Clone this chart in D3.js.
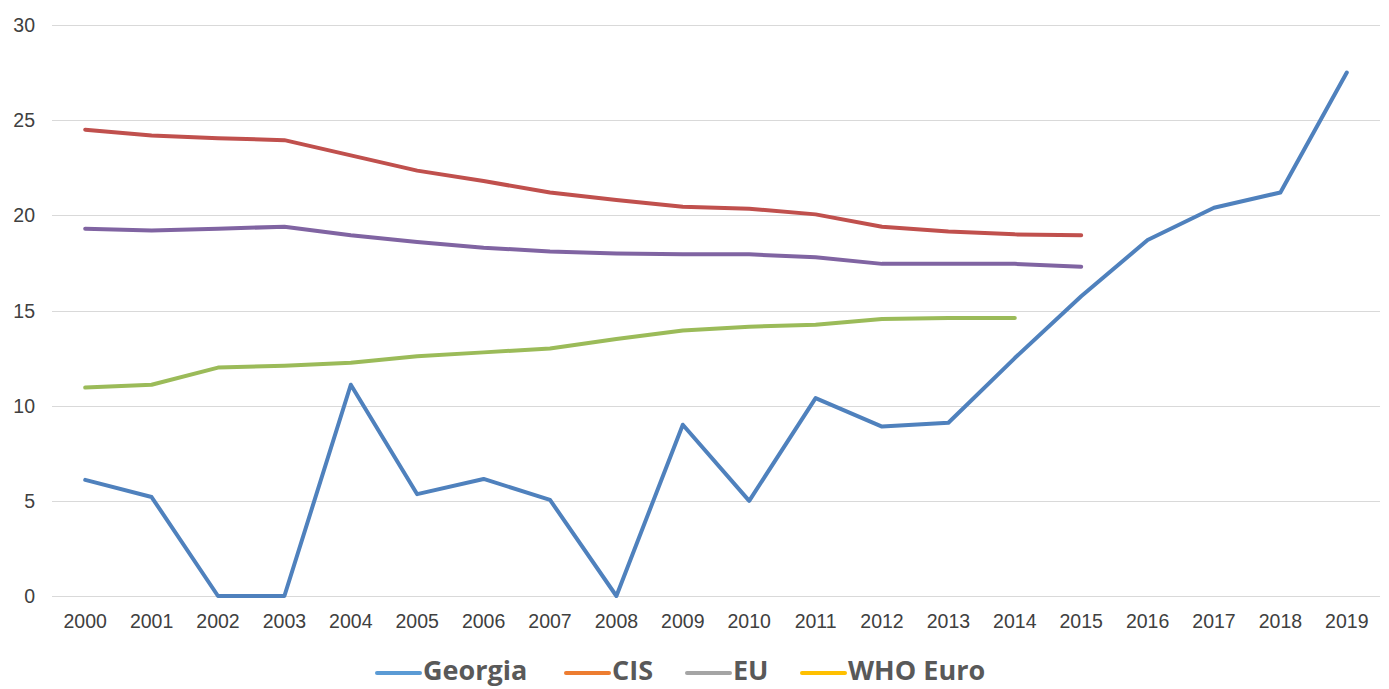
<!DOCTYPE html>
<html>
<head>
<meta charset="utf-8">
<script src="https://cdn.jsdelivr.net/npm/d3@7"></script>
<style>
	body { margin: 0; background: #fff; }
	svg { display: block; }
</style>
</head>
<body>
<svg id="chart" width="1389" height="689"></svg>
<script>
// Chart values
const years = ["2000", "2001", "2002", "2003", "2004", "2005", "2006", "2007", "2008", "2009",
	"2010", "2011", "2012", "2013", "2014", "2015", "2016", "2017", "2018", "2019"];
const georgia = [6.1, 5.2, 0, 0, 11.1, 5.35, 6.15, 5.05, 0, 9.0,
	5.0, 10.4, 8.9, 9.1, 12.5, 15.75, 18.7, 20.4, 21.2, 27.5];
const redSeries = [24.5, 24.2, 24.05, 23.95, 23.15, 22.35, 21.8, 21.2, 20.8, 20.45,
	20.35, 20.05, 19.4, 19.15, 19.0, 18.95];
const purpleSeries = [19.3, 19.2, 19.3, 19.4, 18.95, 18.6, 18.3, 18.1, 18.0, 17.95,
	17.95, 17.8, 17.45, 17.45, 17.45, 17.3];
const greenSeries = [10.95, 11.1, 12.0, 12.1, 12.25, 12.6, 12.8, 13.0, 13.5, 13.95,
	14.15, 14.25, 14.55, 14.6, 14.6];
const yTicks = [0, 5, 10, 15, 20, 25, 30];
const legendNames = ["Georgia", "CIS", "EU", "WHO Euro"];
const legendColors = ["#5b9bd5", "#ed7d31", "#a5a5a5", "#ffc000"];

const svg = d3.select("#chart");
const margin = { left: 52, right: 9, top: 25, bottom: 93 };
const width = +svg.attr("width");
const height = +svg.attr("height");

const x = d3.scaleBand()
	.domain(years)
	.range([margin.left, width - margin.right]);
const y = d3.scaleLinear()
	.domain([0, 30])
	.range([height - margin.bottom, margin.top]);

// gridlines
svg.append("g")
	.selectAll("line")
	.data(yTicks)
	.join("line")
	.attr("x1", margin.left)
	.attr("x2", width - margin.right)
	.attr("y1", (d) => Math.round(y(d)) + 0.5)
	.attr("y2", (d) => Math.round(y(d)) + 0.5)
	.attr("stroke", "#d9d9d9")
	.attr("stroke-width", 1);

// y axis labels
svg.append("g")
	.style("font", "19.5px 'Liberation Sans', Arial, sans-serif")
	.attr("fill", "#404040")
	.attr("text-anchor", "end")
	.selectAll("text")
	.data(yTicks)
	.join("text")
	.attr("x", 35)
	.attr("y", (d) => y(d) + 7)
	.text((d) => d);

// x axis labels
svg.append("g")
	.style("font", "19.5px 'Liberation Sans', Arial, sans-serif")
	.attr("fill", "#404040")
	.attr("text-anchor", "middle")
	.selectAll("text")
	.data(years)
	.join("text")
	.attr("x", (d) => x(d) + x.bandwidth() / 2)
	.attr("y", 628)
	.text((d) => d);

// series lines
const line = d3.line()
	.x((d, i) => x(years[i]) + x.bandwidth() / 2)
	.y((d) => y(d));

const series = [
	{ values: greenSeries, color: "#9bbb59" },
	{ values: purpleSeries, color: "#8064a2" },
	{ values: redSeries, color: "#c0504d" },
	{ values: georgia, color: "#4f81bd" },
];

svg.append("g")
	.selectAll("path")
	.data(series)
	.join("path")
	.attr("d", (d) => line(d.values))
	.attr("fill", "none")
	.attr("stroke", (d) => d.color)
	.attr("stroke-width", 4)
	.attr("stroke-linejoin", "round")
	.attr("stroke-linecap", "round");

// legend
const legendX = [377, 566, 687, 802];
const legend = svg.append("g")
	.selectAll("g")
	.data(legendNames)
	.join("g")
	.attr("transform", (d, i) => `translate(${legendX[i]},673)`);

legend.append("line")
	.attr("x1", 0)
	.attr("x2", 43)
	.attr("stroke", (d, i) => legendColors[i])
	.attr("stroke-width", 4)
	.attr("stroke-linecap", "round");

legend.append("text")
	.attr("x", 46)
	.attr("y", 7)
	.style("font", "bold 27px 'Open Sans', sans-serif")
	.attr("fill", "#595959")
	.text((d) => d);
</script>
</body>
</html>
